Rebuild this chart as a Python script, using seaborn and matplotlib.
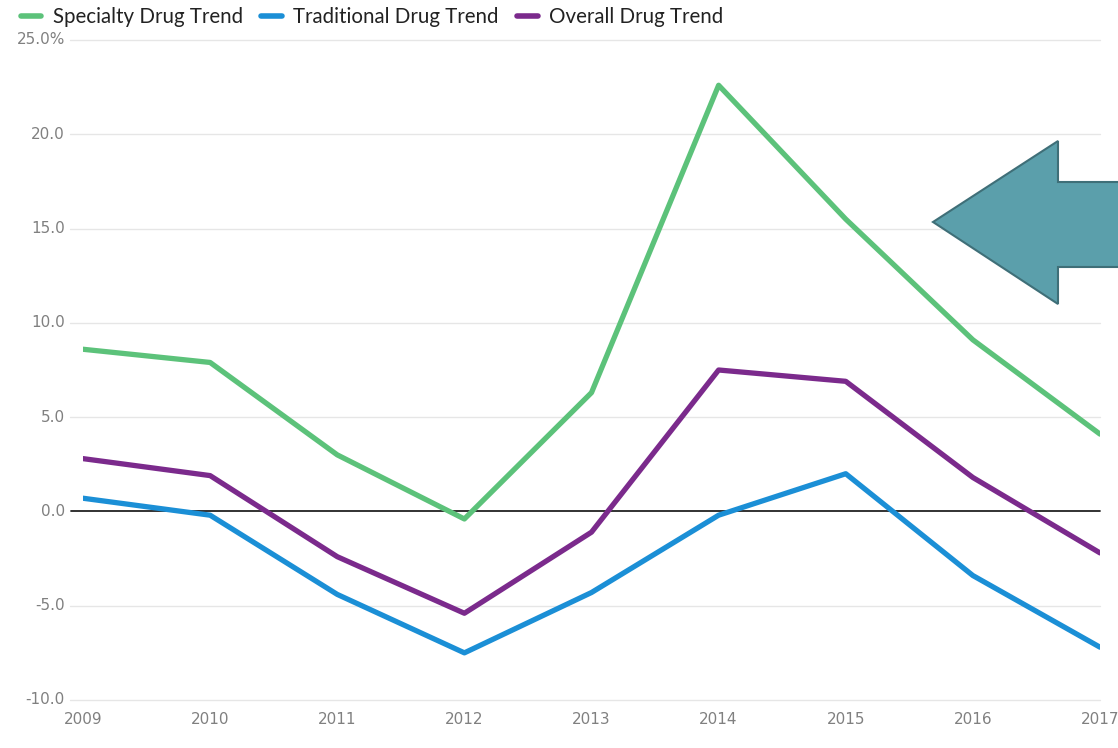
import matplotlib
matplotlib.use("Agg")
import matplotlib.pyplot as plt
from matplotlib.patches import Polygon
from matplotlib.lines import Line2D
import seaborn as sns
import pandas as pd

years = [2009, 2010, 2011, 2012, 2013, 2014, 2015, 2016, 2017]
specialty = [8.6, 7.9, 3.0, -0.4, 6.3, 22.6, 15.5, 9.1, 4.1]
traditional = [0.7, -0.2, -4.4, -7.5, -4.3, -0.2, 2.0, -3.4, -7.2]
overall = [2.8, 1.9, -2.4, -5.4, -1.1, 7.5, 6.9, 1.8, -2.2]

series_names = ["Specialty Drug Trend", "Traditional Drug Trend", "Overall Drug Trend"]
series_colors = ["#5cc27a", "#1b8fd6", "#7b2a8c"]
y_ticks = [-10, -5, 0, 5, 10, 15, 20, 25]
y_labels = ["-10.0", "-5.0", "0.0", "5.0", "10.0", "15.0", "20.0", "25.0%"]

df = pd.DataFrame({
    "year": years * 3,
    "value": specialty + traditional + overall,
    "series": [series_names[0]] * 9 + [series_names[1]] * 9 + [series_names[2]] * 9,
})

sns.set_theme(style="white")
plt.rcParams["font.family"] = ["Lato", "DejaVu Sans"]

fig = plt.figure(figsize=(11.18, 7.48), dpi=100)
ax = fig.add_axes([83 / 1118, 48 / 748, 1017 / 1118, 660 / 748])

sns.lineplot(data=df, x="year", y="value", hue="series", palette=series_colors,
             hue_order=series_names, linewidth=3.8, ax=ax, legend=False, zorder=3)

tick_kw = dict(fontfamily="DejaVu Sans", fontsize=11, color="#808080")
ax.set_xlim(2009, 2017)
ax.set_ylim(-10, 25)
ax.set_xticks(years)
ax.set_xticklabels([str(y) for y in years], **tick_kw)
ax.set_yticks(y_ticks)
ax.set_yticklabels(y_labels, va="center", **tick_kw)
ax.set_xlabel("")
ax.set_ylabel("")

for s in ax.spines.values():
    s.set_visible(False)

# light horizontal grid, extended slightly left of the plot area
for yv in y_ticks:
    if yv == 0:
        continue
    ax.plot([-0.013, 1.0], [yv, yv], transform=ax.get_yaxis_transform(),
            color="#e6e6e6", lw=1.0, clip_on=False, zorder=1)
ax.plot([-0.012, 1.0], [0, 0], transform=ax.get_yaxis_transform(),
        color="#222222", lw=1.3, clip_on=False, zorder=2)

ax.tick_params(axis="y", length=0, pad=13)
ax.tick_params(axis="x", length=0, pad=9)

# legend across the top
handles = [Line2D([0], [0], color=c, lw=4) for c in series_colors]
fig.legend(handles, series_names, loc="upper left", bbox_to_anchor=(0.002, 1.015),
           ncol=3, frameon=False, handlelength=1.0, handletextpad=0.55,
           columnspacing=0.9, fontsize=14.8, labelcolor="#222222")

# left-pointing block arrow
W, H = 1118, 748
pts = [(933, 222), (1058, 141), (1058, 182), (1125, 182),
       (1125, 267), (1058, 267), (1058, 304)]
arrow = Polygon([(x / W, 1 - y / H) for x, y in pts], closed=True,
                transform=fig.transFigure, facecolor="#5b9fab",
                edgecolor="#3f6f78", lw=1.5, zorder=5)
fig.patches.append(arrow)

fig.savefig("out.png", dpi=100)
